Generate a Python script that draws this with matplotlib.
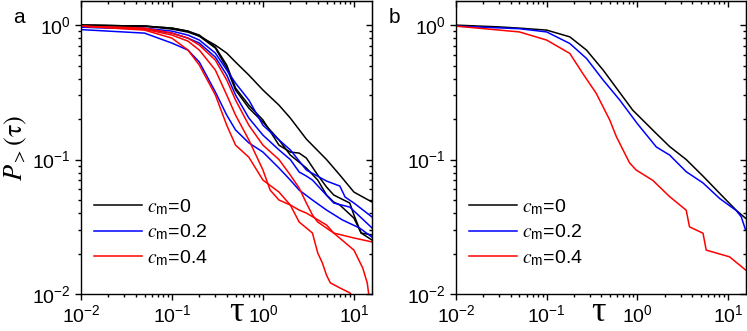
import matplotlib
matplotlib.use("Agg")
import matplotlib.pyplot as plt

plt.rcParams['font.family'] = ['Liberation Sans', 'DejaVu Sans']
plt.rcParams['mathtext.fontset'] = 'stix'

# ---- panel a: three runs per c_m ----
a_k1_t = [0.01, 0.05, 0.1, 0.15, 0.2, 0.3, 0.4, 0.5, 0.7, 1, 1.5, 2, 3, 5, 7, 10, 15.8]
a_k1_p = [1.0, 0.983, 0.934, 0.887, 0.828, 0.710, 0.619, 0.531, 0.425, 0.329, 0.254, 0.2035, 0.142, 0.100, 0.0767, 0.0573, 0.0483]
a_k2_t = [0.01, 0.05, 0.1, 0.15, 0.2, 0.3, 0.4, 0.5, 0.7, 1, 1.5, 2, 2.5, 3, 4, 5, 6, 7, 9, 10, 12, 15.8]
a_k2_p = [1.0, 0.983, 0.950, 0.902, 0.843, 0.686, 0.504, 0.340, 0.254, 0.197, 0.128, 0.1137, 0.1117, 0.1026, 0.0767, 0.0625, 0.0545, 0.0517, 0.0475, 0.0387, 0.0284, 0.0252]
a_k3_t = [0.01, 0.05, 0.1, 0.15, 0.2, 0.3, 0.4, 0.5, 0.7, 1, 1.5, 2, 3, 4, 5, 6, 7, 10, 12, 15.8]
a_k3_p = [1.0, 0.983, 0.950, 0.902, 0.828, 0.675, 0.479, 0.329, 0.2415, 0.190, 0.140, 0.108, 0.0865, 0.0704, 0.0545, 0.0483, 0.0459, 0.0367, 0.0284, 0.0275]

a_b1_t = [0.01, 0.05, 0.1, 0.15, 0.2, 0.3, 0.4, 0.5, 0.7, 1, 1.5, 2, 3, 5, 7, 8, 10, 15.8]
a_b1_p = [0.966, 0.950, 0.902, 0.843, 0.774, 0.619, 0.463, 0.370, 0.277, 0.180, 0.140, 0.118, 0.0836, 0.0692, 0.0635, 0.0526, 0.0475, 0.0374]
a_b2_t = [0.01, 0.05, 0.1, 0.15, 0.2, 0.3, 0.4, 0.5, 0.7, 1, 1.5, 2, 2.5, 3, 3.5, 6, 9, 15.8]
a_b2_p = [0.966, 0.934, 0.872, 0.800, 0.735, 0.578, 0.425, 0.302, 0.2035, 0.152, 0.118, 0.100, 0.0808, 0.0754, 0.0704, 0.0475, 0.0443, 0.0310]
a_b3_t = [0.01, 0.05, 0.1, 0.15, 0.2, 0.3, 0.4, 0.5, 0.7, 1, 1.5, 2, 2.5, 3.5, 5, 7.5, 11.5, 15.8]
a_b3_p = [0.926, 0.872, 0.735, 0.652, 0.531, 0.318, 0.214, 0.166, 0.133, 0.1137, 0.0865, 0.0704, 0.0593, 0.050, 0.0421, 0.0355, 0.0310, 0.0265]

a_r1_t = [0.01, 0.05, 0.1, 0.15, 0.2, 0.3, 0.4, 0.5, 0.7, 1, 1.5, 2, 2.5, 3, 3.5, 4, 6, 10, 12.5, 14, 14.6]
a_r1_p = [0.983, 0.950, 0.872, 0.800, 0.710, 0.549, 0.390, 0.277, 0.180, 0.128, 0.100, 0.0767, 0.0614, 0.0475, 0.0387, 0.0343, 0.0284, 0.0212, 0.0156, 0.0121, 0.0098]
a_r2_t = [0.01, 0.05, 0.1, 0.15, 0.2, 0.3, 0.4, 0.5, 0.7, 1, 1.2, 1.5, 2, 2.5, 3, 5, 6, 10, 15.8]
a_r2_p = [0.983, 0.934, 0.843, 0.760, 0.652, 0.463, 0.302, 0.214, 0.140, 0.0836, 0.0593, 0.050, 0.0459, 0.0421, 0.0400, 0.0326, 0.0284, 0.0261, 0.0244]
a_r3_t = [0.01, 0.05, 0.1, 0.15, 0.2, 0.3, 0.4, 0.5, 0.7, 1, 1.5, 2, 2.5, 3, 3.5, 4, 4.5, 5, 5.5, 7, 9, 9.5]
a_r3_p = [0.983, 0.918, 0.800, 0.652, 0.504, 0.302, 0.180, 0.128, 0.104, 0.0704, 0.0573, 0.0459, 0.0343, 0.0310, 0.0284, 0.0202, 0.0170, 0.0138, 0.0121, 0.0111, 0.0102, 0.0098]

# ---- panel b: averaged ----
b_k_t = [0.01, 0.03, 0.05, 0.1, 0.18, 0.275, 0.42, 0.54, 0.89, 1.62, 2.27, 3.46, 5.3, 8.1, 12.3, 15.6]
b_k_p = [1.0, 0.97, 0.95, 0.918, 0.818, 0.652, 0.463, 0.368, 0.233, 0.156, 0.125, 0.100, 0.0753, 0.056, 0.042, 0.0366]
b_b_t = [0.01, 0.05, 0.1, 0.18, 0.275, 0.42, 0.64, 1.0, 1.62, 2.27, 3.46, 5.3, 8.1, 12.3, 14, 15.6]
b_b_p = [0.983, 0.94, 0.89, 0.73, 0.565, 0.39, 0.277, 0.185, 0.124, 0.108, 0.0812, 0.067, 0.0513, 0.0418, 0.0375, 0.030]
b_r_t = [0.01, 0.05, 0.1, 0.18, 0.25, 0.353, 0.496, 0.587, 0.82, 0.97, 1.48, 2.27, 3.46, 3.76, 5.3, 5.75, 10.4, 15.6]
b_r_p = [0.983, 0.89, 0.774, 0.616, 0.437, 0.31, 0.197, 0.148, 0.0946, 0.0836, 0.070, 0.053, 0.042, 0.0316, 0.0283, 0.0212, 0.0189, 0.0151]

labels = [r'$c_{\mathdefault{m}}$=0', r'$c_{\mathdefault{m}}$=0.2', r'$c_{\mathdefault{m}}$=0.4']

fig = plt.figure(figsize=(7.47, 3.31), dpi=100)
ax_a = fig.add_axes([0.1084, 0.1118, 0.3896, 0.885])
ax_b = fig.add_axes([0.6104, 0.1118, 0.3883, 0.885])

lw = 1.1
ax_a.plot(a_k1_t, a_k1_p, color='black', lw=lw, label=labels[0])
ax_a.plot(a_k2_t, a_k2_p, color='black', lw=lw)
ax_a.plot(a_k3_t, a_k3_p, color='black', lw=lw)
ax_a.plot(a_b1_t, a_b1_p, color='blue', lw=lw, label=labels[1])
ax_a.plot(a_b2_t, a_b2_p, color='blue', lw=lw)
ax_a.plot(a_b3_t, a_b3_p, color='blue', lw=lw)
ax_a.plot(a_r1_t, a_r1_p, color='red', lw=lw, label=labels[2])
ax_a.plot(a_r2_t, a_r2_p, color='red', lw=lw)
ax_a.plot(a_r3_t, a_r3_p, color='red', lw=lw)

ax_b.plot(b_k_t, b_k_p, color='black', lw=lw, label=labels[0])
ax_b.plot(b_b_t, b_b_p, color='blue', lw=lw, label=labels[1])
ax_b.plot(b_r_t, b_r_p, color='red', lw=lw, label=labels[2])

for ax, tx in ((ax_a, 0.533), (ax_b, 0.49)):
    ax.set_xscale('log')
    ax.set_yscale('log')
    ax.set_xlim(0.01, 15.8)
    ax.set_ylim(0.01, 1.51)
    for s in ax.spines.values():
        s.set_linewidth(1.0)
    ax.tick_params(which='both', direction='out', top=False, right=False, labelsize=14, width=1.0)
    ax.tick_params(which='major', length=4)
    ax.tick_params(which='minor', length=2.2)
    sy = ax.secondary_yaxis('right')
    sy.tick_params(which='both', direction='in', labelright=False, width=1.0)
    sy.tick_params(which='major', length=4)
    sy.tick_params(which='minor', length=2.2)
    sx = ax.secondary_xaxis('top')
    sx.tick_params(which='both', direction='in', labeltop=False, width=1.0)
    sx.tick_params(which='major', length=4)
    sx.tick_params(which='minor', length=2.2)
    ax.text(tx, -0.12, 'τ', transform=ax.transAxes, family='Liberation Serif',
            fontsize=26, ha='center', va='bottom')
    ax.legend(loc='lower left', bbox_to_anchor=(0.01, 0.056), frameon=False, fontsize=14,
              handlelength=2.5, handletextpad=0.25, labelspacing=0.3, borderpad=0)

ax_a.set_ylabel(r'$P_{>}(\mathrm{\tau})$', fontsize=19, labelpad=2)
fig.text(0.017, 0.93, 'a', fontsize=15)
fig.text(0.52, 0.93, 'b', fontsize=15)

fig.savefig('out.png', dpi=100)
